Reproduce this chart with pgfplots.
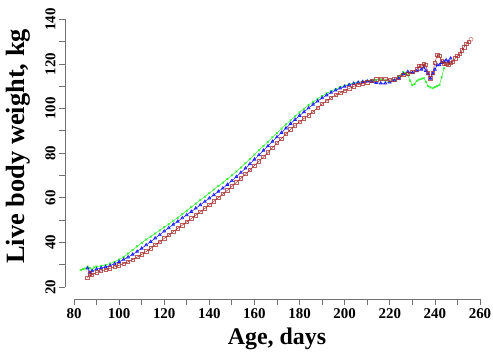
\documentclass[border=0pt]{standalone}
\usepackage{pgfplots}
\pgfplotsset{compat=1.18}
\usepackage{fontspec}
\setmainfont{Liberation Serif}
\definecolor{grn}{HTML}{33EE33}
\definecolor{blu}{HTML}{1A1AFF}
\definecolor{brn}{HTML}{A52A2A}
\definecolor{axg}{HTML}{707070}
\begin{document}
\begin{tikzpicture}[x=1bp,y=1bp]
\useasboundingbox (0,0) rectangle (493,355);
\begin{axis}[
  at={(74bp,68bp)}, anchor=south west,
  scale only axis, width=406bp, height=267.7bp,
  xmin=80, xmax=260, ymin=20, ymax=140,
  axis x line*=bottom, axis y line*=left,
  axis x line shift=12bp, axis y line shift=9bp,
  axis line style={-, draw=axg, line width=0.8bp},
  every tick/.style={draw=axg, line width=0.8bp},
  tick align=outside, major tick length=6bp, minor tick length=6bp,
  xtick={80,100,...,260}, minor xtick={90,110,...,250},
  ytick={20,40,...,140}, minor ytick={30,50,...,130},
  /pgf/number format/assume math mode=true,
  tick label style={font=\fontsize{15}{15}\selectfont\bfseries},
  yticklabel style={rotate=90, anchor=south},
  xlabel={Age, days}, ylabel={Live body weight, kg},
  xlabel style={font=\fontsize{24}{24}\selectfont\bfseries, at={(axis description cs:0.5,-0.194)}, anchor=center},
  ylabel style={font=\fontsize{26.5}{26.5}\selectfont\bfseries, at={(axis description cs:-0.138,0.525)}, anchor=center, rotate=0},
]
% green
\addplot[color=grn, line width=0.5bp, mark=x, mark size=1.3bp, mark options={line width=0.7bp}] coordinates {
(83,27.6)(84,28.0)(85,28.3)(86,29.1)(87,28.4)(88,27.8)(89,28.8)(90,29.2)(92,29.4)(94,29.9)(96,30.5)(98,31.3)(100,32.3)(102,33.5)(104,35.0)(106,36.6)(108,38.2)(110,39.8)(112,41.3)(114,42.6)(116,44.0)(118,45.4)(120,46.8)(122,48.2)(124,49.7)(126,51.1)(128,52.6)(130,54.2)(132,55.8)(134,57.4)(136,59.0)(138,60.5)(140,62.1)(142,63.7)(144,65.3)(146,66.8)(148,68.4)(150,70.1)(152,71.8)(154,73.6)(156,75.5)(158,77.4)(160,79.4)(162,81.3)(164,83.2)(166,85.1)(168,87.1)(170,89.0)(172,91.0)(174,92.9)(176,94.7)(178,96.5)(180,98.3)(182,99.9)(184,101.6)(186,103.0)(188,104.4)(190,105.6)(192,106.8)(194,107.8)(196,108.8)(198,109.6)(200,110.3)(202,110.9)(204,111.4)(206,111.8)(208,112.1)(210,112.4)(212,112.6)(214,112.8)(216,112.9)(218,112.6)(220,112.0)(222,112.6)(224,114.5)(226,116.3)(227,116.0)(228,115.0)(229,112.5)(230,110.5)(231,111.0)(232,112.5)(233,113.0)(234,113.3)(235,113.6)(236,112.0)(237,110.0)(238,109.5)(239,109.1)(240,109.6)(241,110.0)(242,110.6)(243,114.0)(244,118.0)
};
% blue
\addplot[color=blu, line width=0.5bp, mark=triangle, mark size=1.6bp, mark options={line width=0.7bp}] coordinates {
(86,28.4)(87,26.5)(88,27.2)(90,28.0)(92,28.5)(94,29.0)(96,29.6)(98,30.4)(100,31.3)(102,32.3)(104,33.4)(106,34.6)(108,35.9)(110,37.3)(112,38.8)(114,40.3)(116,41.9)(118,43.4)(120,45.0)(122,46.5)(124,48.0)(126,49.4)(128,50.9)(130,52.3)(132,53.8)(134,55.3)(136,56.8)(138,58.3)(140,59.8)(142,61.3)(144,62.8)(146,64.3)(148,65.9)(150,67.6)(152,69.4)(154,71.3)(156,73.2)(158,75.2)(160,77.2)(162,79.2)(164,81.2)(166,83.2)(168,85.2)(170,87.2)(172,89.2)(174,91.2)(176,93.2)(178,95.0)(180,96.8)(182,98.5)(184,100.2)(186,101.8)(188,103.3)(190,104.7)(192,106.0)(194,107.2)(196,108.2)(198,109.1)(200,109.9)(202,110.6)(204,111.2)(206,111.7)(208,112.0)(210,112.2)(212,112.0)(214,111.6)(216,111.3)(218,111.3)(220,111.8)(222,112.6)(224,113.5)(226,115.5)(228,116.5)(230,116.0)(232,116.8)(234,117.5)(235,118.5)(236,117.0)(237,115.5)(238,113.5)(239,115.5)(240,117.5)(241,119.5)(242,119.5)(243,120.5)(244,121.0)(245,121.7)(246,121.0)(247,122.5)
};
% brown
\addplot[color=brn, line width=0.5bp, mark=square, mark size=1.7bp, mark options={line width=0.7bp, draw opacity=0.75}] coordinates {
(86,24.0)(87,26.2)(88,25.5)(90,26.5)(92,27.2)(94,27.8)(96,28.4)(98,29.0)(100,29.7)(102,30.5)(104,31.3)(106,32.3)(108,33.4)(110,34.6)(112,35.9)(114,37.3)(116,38.8)(118,40.3)(120,41.8)(122,43.3)(124,44.8)(126,46.3)(128,47.7)(130,49.2)(132,50.7)(134,52.2)(136,53.7)(138,55.2)(140,56.8)(142,58.4)(144,60.0)(146,61.7)(148,63.4)(150,65.1)(152,66.9)(154,68.7)(156,70.6)(158,72.5)(160,74.4)(162,76.3)(164,78.3)(166,80.3)(168,82.4)(170,84.5)(172,86.5)(174,88.6)(176,90.6)(178,92.4)(180,94.0)(182,95.6)(184,97.0)(186,98.6)(188,100.3)(190,102.0)(192,103.5)(194,104.8)(196,106.0)(198,107.0)(200,108.0)(202,109.0)(204,110.0)(206,110.7)(208,111.2)(210,111.8)(212,112.5)(214,113.1)(216,113.3)(218,113.2)(220,112.8)(222,113.0)(224,114.0)(226,115.0)(228,115.5)(230,116.5)(232,117.5)(233,119.0)(234,119.0)(235,120.0)(236,119.5)(237,116.0)(238,113.5)(239,116.0)(240,120.5)(241,124.0)(242,123.5)(243,121.5)(244,120.0)(245,120.0)(246,119.5)(247,120.5)(248,121.0)(249,122.5)(250,123.5)(251,124.5)(252,126.0)(253,127.5)(254,129.0)(255,130.0)
};
\addplot[color=brn, only marks, mark=o, mark size=2bp, mark options={line width=0.6bp, draw opacity=0.6}] coordinates {(256,131.0)};
\end{axis}
\end{tikzpicture}
\end{document}
